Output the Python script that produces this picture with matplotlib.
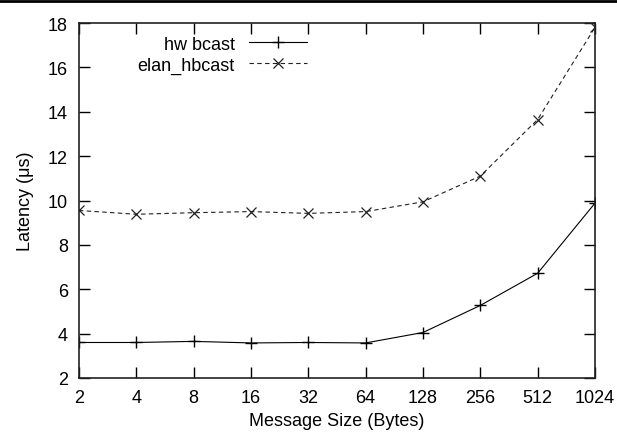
import matplotlib
matplotlib.use("Agg")
import matplotlib.pyplot as plt
from matplotlib.lines import Line2D

# Message sizes (bytes) and latencies (us)
sizes = [2, 4, 8, 16, 32, 64, 128, 256, 512, 1024]
size_labels = ["2", "4", "8", "16", "32", "64", "128", "256", "512", "1024"]
hw_bcast = [3.6, 3.6, 3.65, 3.58, 3.6, 3.58, 4.05, 5.27, 6.72, 9.88]
elan_hbcast = [9.55, 9.38, 9.45, 9.5, 9.42, 9.5, 9.94, 11.1, 13.65, 17.8]
y_ticks = [2, 4, 6, 8, 10, 12, 14, 16, 18]

plt.rcParams["font.family"] = ["Liberation Sans", "DejaVu Sans"]
plt.rcParams["font.size"] = 13

fig = plt.figure(figsize=(6.17, 4.39), dpi=100)
ax = fig.add_axes([0.128, 0.1367, 0.8363, 0.8086])

ax.plot(sizes, hw_bcast, color="black", lw=0.8, marker="+", ms=8,
        mew=1.0, label="hw bcast")
ax.plot(sizes, elan_hbcast, color="#222222", lw=0.8, ls=(0, (4, 3)),
        marker="x", ms=7, mew=0.9, label="elan_hbcast")

ax.set_xscale("log", base=2)
ax.set_xlim(2, 1024)
ax.set_ylim(2, 18)
ax.set_xticks(sizes)
ax.set_xticklabels(size_labels)
ax.xaxis.set_minor_locator(matplotlib.ticker.NullLocator())
ax.set_yticks(y_ticks)

ax.tick_params(direction="in", length=8, width=1.0, top=True, right=True,
               labelsize=13, pad=8)
for sp in ax.spines.values():
    sp.set_linewidth(1.2)
    sp.set_color("#222222")

ax.set_xlabel("Message Size (Bytes)", fontsize=13, labelpad=4)
ax.set_ylabel("Latency (\u03bcs)", fontsize=13, labelpad=10)

ax.legend(loc="upper right", bbox_to_anchor=(0.473, 1.01), frameon=False,
          markerfirst=False, handlelength=3.2, handletextpad=0.8,
          labelspacing=0.2, fontsize=13)

# rule across the top of the figure
fig.add_artist(Line2D([0, 1], [1 - 2 / 439, 1 - 2 / 439], color="black",
                      lw=2, transform=fig.transFigure))

fig.savefig("out.png", dpi=100)
